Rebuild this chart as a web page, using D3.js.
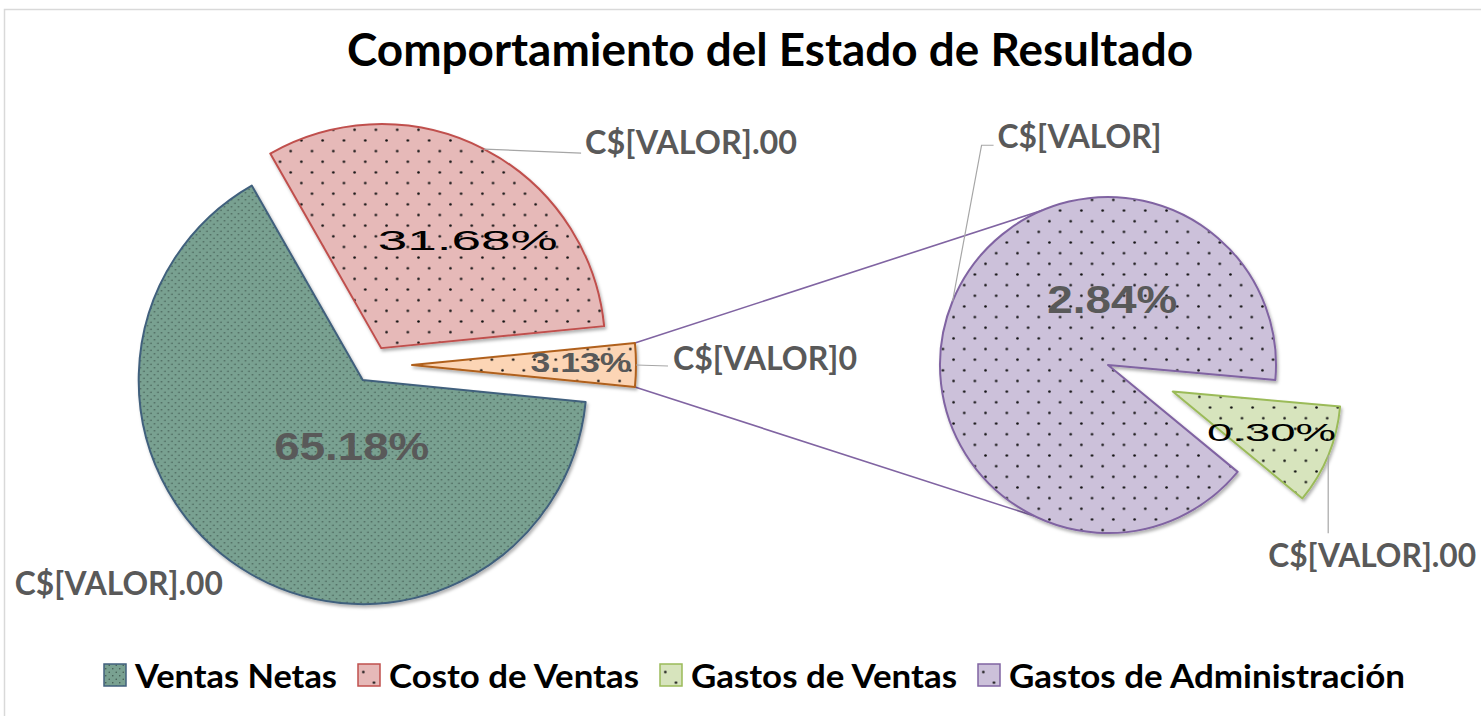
<!DOCTYPE html>
<html>
<head>
<meta charset="utf-8">
<script src="https://cdn.jsdelivr.net/npm/d3@7"></script>
<style>
  html, body { margin: 0; padding: 0; background: #fff; }
  svg { display: block; }
</style>
</head>
<body>
<div id="chart"></div>
<script>
// --- données ---
const titulo = "Comportamiento del Estado de Resultado";
const principalCats = ["Ventas Netas", "Costo de Ventas", "Otros"];
const principalPct = [65.18, 31.68, 3.13];
const secundarioCats = ["Gastos de Administración", "Gastos de Ventas"];
const secundarioPct = [2.84, 0.30];
const leyendaCats = ["Ventas Netas", "Costo de Ventas", "Gastos de Ventas", "Gastos de Administración"];
// textos de valor tal como aparecen (campo roto de Excel)
const principalValor = ["C$[VALOR].00", "C$[VALOR].00", "C$[VALOR]0"];
const secundarioValor = ["C$[VALOR]", "C$[VALOR].00"];

const width = 1481, height = 716;

// estilos por categoría
const estilos = {
  "Ventas Netas": { fill: "#79a191", stroke: "#41607d", pat: "dense" },
  "Costo de Ventas": { fill: "#e6b9b8", stroke: "#c0504d", pat: "sparse" },
  "Otros": { fill: "#fcd5b5", stroke: "#b0601c", pat: "sparse" },
  "Gastos de Ventas": { fill: "#d7e4bd", stroke: "#9bbb59", pat: "sparse" },
  "Gastos de Administración": { fill: "#ccc1da", stroke: "#8064a2", pat: "sparse" }
};

const svg = d3.select("#chart").append("svg")
  .attr("width", width)
  .attr("height", height);

const defs = svg.append("defs");

// sombra suave bajo los sectores
defs.append("filter").attr("id", "sombra")
  .attr("x", "-20%").attr("y", "-20%").attr("width", "140%").attr("height", "140%")
  .append("feDropShadow")
  .attr("dx", 1.5).attr("dy", 2.5).attr("stdDeviation", 1.8)
  .attr("flood-color", "#000").attr("flood-opacity", 0.3);

// tramas de puntos
const patId = name => "pat-" + name.replace(/[^a-zA-Z]/g, "");
Object.entries(estilos).forEach(([name, s]) => {
  const t = s.pat === "dense" ? 7 : 21.3;
  const p = defs.append("pattern")
    .attr("id", patId(name))
    .attr("patternUnits", "userSpaceOnUse")
    .attr("width", t).attr("height", t);
  p.append("rect").attr("width", t).attr("height", t).attr("fill", s.fill);
  const r = s.pat === "dense" ? 0.8 : 1.3;
  const col = s.pat === "dense" ? "rgba(45,65,60,0.75)" : "#111";
  [[t * 0.25, t * 0.25], [t * 0.75, t * 0.75]].forEach(([x, y]) => {
    p.append("circle").attr("cx", x).attr("cy", y).attr("r", r).attr("fill", col);
  });
});

// marco del gráfico
svg.append("rect")
  .attr("x", 4.5).attr("y", 9.5)
  .attr("width", width + 20).attr("height", height + 20)
  .attr("fill", "none").attr("stroke", "#d9d9d9").attr("stroke-width", 1.5);

// título
svg.append("text")
  .attr("x", 770).attr("y", 66)
  .attr("text-anchor", "middle")
  .attr("font-family", "Lato, sans-serif")
  .attr("font-weight", 700)
  .attr("font-size", 46)
  .attr("fill", "#000")
  .attr("textLength", 846).attr("lengthAdjust", "spacingAndGlyphs")
  .text(titulo);

const deg = Math.PI / 180;
const polar = (c, a, r) => [c[0] + r * Math.sin(a), c[1] - r * Math.cos(a)];

// --- pastel principal ---
const c1 = [372.5, 365], r1 = 224;
const explode1 = [18, 19, 39.5];
const total1 = d3.sum(principalPct);
// "Otros" centrado a la derecha (90°)
const start1 = 450 * deg - (principalPct[0] + principalPct[1] + principalPct[2] / 2) / total1 * 2 * Math.PI;
const pie1 = d3.pie().sort(null).startAngle(start1).endAngle(start1 + 2 * Math.PI);
const arcs1 = pie1(principalPct).map((d, i) => {
  const mid = (d.startAngle + d.endAngle) / 2;
  return Object.assign(d, { cat: principalCats[i], mid, c: polar(c1, mid, explode1[i]) });
});
const arc1 = d3.arc().innerRadius(0).outerRadius(r1);

// --- pastel secundario ---
const c2 = [1108, 365], r2 = 168;
const explode2 = [0, 70];
const total2 = d3.sum(secundarioPct);
const centroVentas = 112.3 * deg;
const start2 = centroVentas + 2 * Math.PI - (secundarioPct[0] + secundarioPct[1] / 2) / total2 * 2 * Math.PI;
const pie2 = d3.pie().sort(null).startAngle(start2).endAngle(start2 + 2 * Math.PI);
const arcs2 = pie2(secundarioPct).map((d, i) => {
  const mid = (d.startAngle + d.endAngle) / 2;
  return Object.assign(d, { cat: secundarioCats[i], mid, c: polar(c2, mid, explode2[i]) });
});
const arc2 = d3.arc().innerRadius(0).outerRadius(r2);

// líneas de unión entre "Otros" y el segundo pastel
const otros = arcs1[2];
const unionAng = [-23 * deg, 206 * deg];
const uniones = [
  [polar(otros.c, otros.startAngle, r1), polar(c2, unionAng[0], r2)],
  [polar(otros.c, otros.endAngle, r1), polar(c2, unionAng[1], r2)]
];
svg.append("g").selectAll("line").data(uniones).join("line")
  .attr("x1", d => d[0][0]).attr("y1", d => d[0][1])
  .attr("x2", d => d[1][0]).attr("y2", d => d[1][1])
  .attr("stroke", "#8064a2").attr("stroke-width", 1.6);

// sectores
function dibujaSectores(arcs, arcGen) {
  svg.append("g").selectAll("path").data(arcs).join("path")
    .attr("transform", d => `translate(${d.c[0]},${d.c[1]})`)
    .attr("d", arcGen)
    .attr("fill", d => `url(#${patId(d.cat)})`)
    .attr("stroke", d => estilos[d.cat].stroke)
    .attr("stroke-width", 2)
    .attr("stroke-linejoin", "round")
    .attr("filter", "url(#sombra)");
}
dibujaSectores(arcs1, arc1);
dibujaSectores(arcs2, arc2);

// etiquetas de porcentaje
const pctFmt = d => d.toFixed(2) + "%";
const pctEstilo = [
  // Ventas, Costo, Otros, Admin, GVentas
  { dx: 50, dy: -14, size: 38, bold: true, color: "#595959", w: 155 },
  { dx: 35, dy: 1, size: 28, bold: false, color: "#000", w: 180 },
  { dx: 57, dy: 7, size: 27, bold: true, color: "#595959", w: 101 },
  { dx: 82, dy: -20, size: 39, bold: true, color: "#595959", w: 130 },
  { dx: 21, dy: 18, size: 24, bold: false, color: "#000", w: 129 }
];
const todos = arcs1.map(d => ({ d, gen: arc1, r: r1 })).concat(arcs2.map(d => ({ d, gen: arc2, r: r2 })));
svg.append("g").selectAll("text").data(todos).join("text")
  .each(function (o, i) {
    const s = pctEstilo[i];
    const cen = o.gen.centroid(o.d);
    d3.select(this)
      .attr("x", o.d.c[0] + cen[0] + s.dx)
      .attr("y", o.d.c[1] + cen[1] + s.dy)
      .attr("text-anchor", "middle")
      .attr("font-family", "'Liberation Sans', Arial, sans-serif")
      .attr("font-weight", s.bold ? 700 : 400)
      .attr("font-size", s.size)
      .attr("fill", s.color)
      .attr("textLength", s.w).attr("lengthAdjust", "spacingAndGlyphs")
      .text(pctFmt(o.d.value));
  });

// etiquetas de valor con líneas guía
const valores = principalValor.concat(secundarioValor);
const valorLayout = [
  { dx: -226, dy: 27, w: 208, guia: [] },
  { dx: 101, dy: 5, w: 212, guia: [[97, 4]] },
  { dx: 37, dy: 5, w: 184, guia: [[32, 1]] },
  { dx: 45, dy: -153, w: 164, guia: [[29, -156], [41, -156]] },
  { dx: -60, dy: 112, w: 208, guia: [[0, 78]] }
];
const gVal = svg.append("g");
todos.forEach((o, i) => {
  const L = valorLayout[i];
  const p = polar(o.d.c, o.d.mid, o.r);
  if (L.guia.length) {
    gVal.append("path")
      .attr("d", d3.line()([p].concat(L.guia.map(g => [p[0] + g[0], p[1] + g[1]]))))
      .attr("fill", "none").attr("stroke", "#a6a6a6").attr("stroke-width", 1.2);
  }
  gVal.append("text")
    .attr("x", p[0] + L.dx).attr("y", p[1] + L.dy)
    .attr("font-family", "Lato, sans-serif")
    .attr("font-weight", 700)
    .attr("font-size", 32)
    .attr("fill", "#595959")
    .attr("textLength", L.w).attr("lengthAdjust", "spacingAndGlyphs")
    .text(valores[i]);
});

// leyenda
const legAncho = [202, 250, 266, 396];
const leg = svg.append("g").attr("transform", "translate(0,688)");
const items = leg.selectAll("g").data(leyendaCats).join("g");
items.append("rect")
  .attr("y", -24).attr("width", 22).attr("height", 22)
  .attr("fill", d => `url(#${patId(d)})`)
  .attr("stroke", d => estilos[d].stroke).attr("stroke-width", 1.5);
items.append("text")
  .attr("x", 31)
  .attr("font-family", "Lato, sans-serif")
  .attr("font-weight", 700)
  .attr("font-size", 33)
  .attr("fill", "#000")
  .attr("textLength", (d, i) => legAncho[i]).attr("lengthAdjust", "spacingAndGlyphs")
  .text(d => d);
const xs = [];
let xPos = 0;
legAncho.forEach(w => { xs.push(xPos); xPos += 31 + w + 21; });
const totalW = xPos - 21;
const x0 = 754.5 - totalW / 2;
items.attr("transform", (d, i) => `translate(${x0 + xs[i]},0)`);
</script>
</body>
</html>
